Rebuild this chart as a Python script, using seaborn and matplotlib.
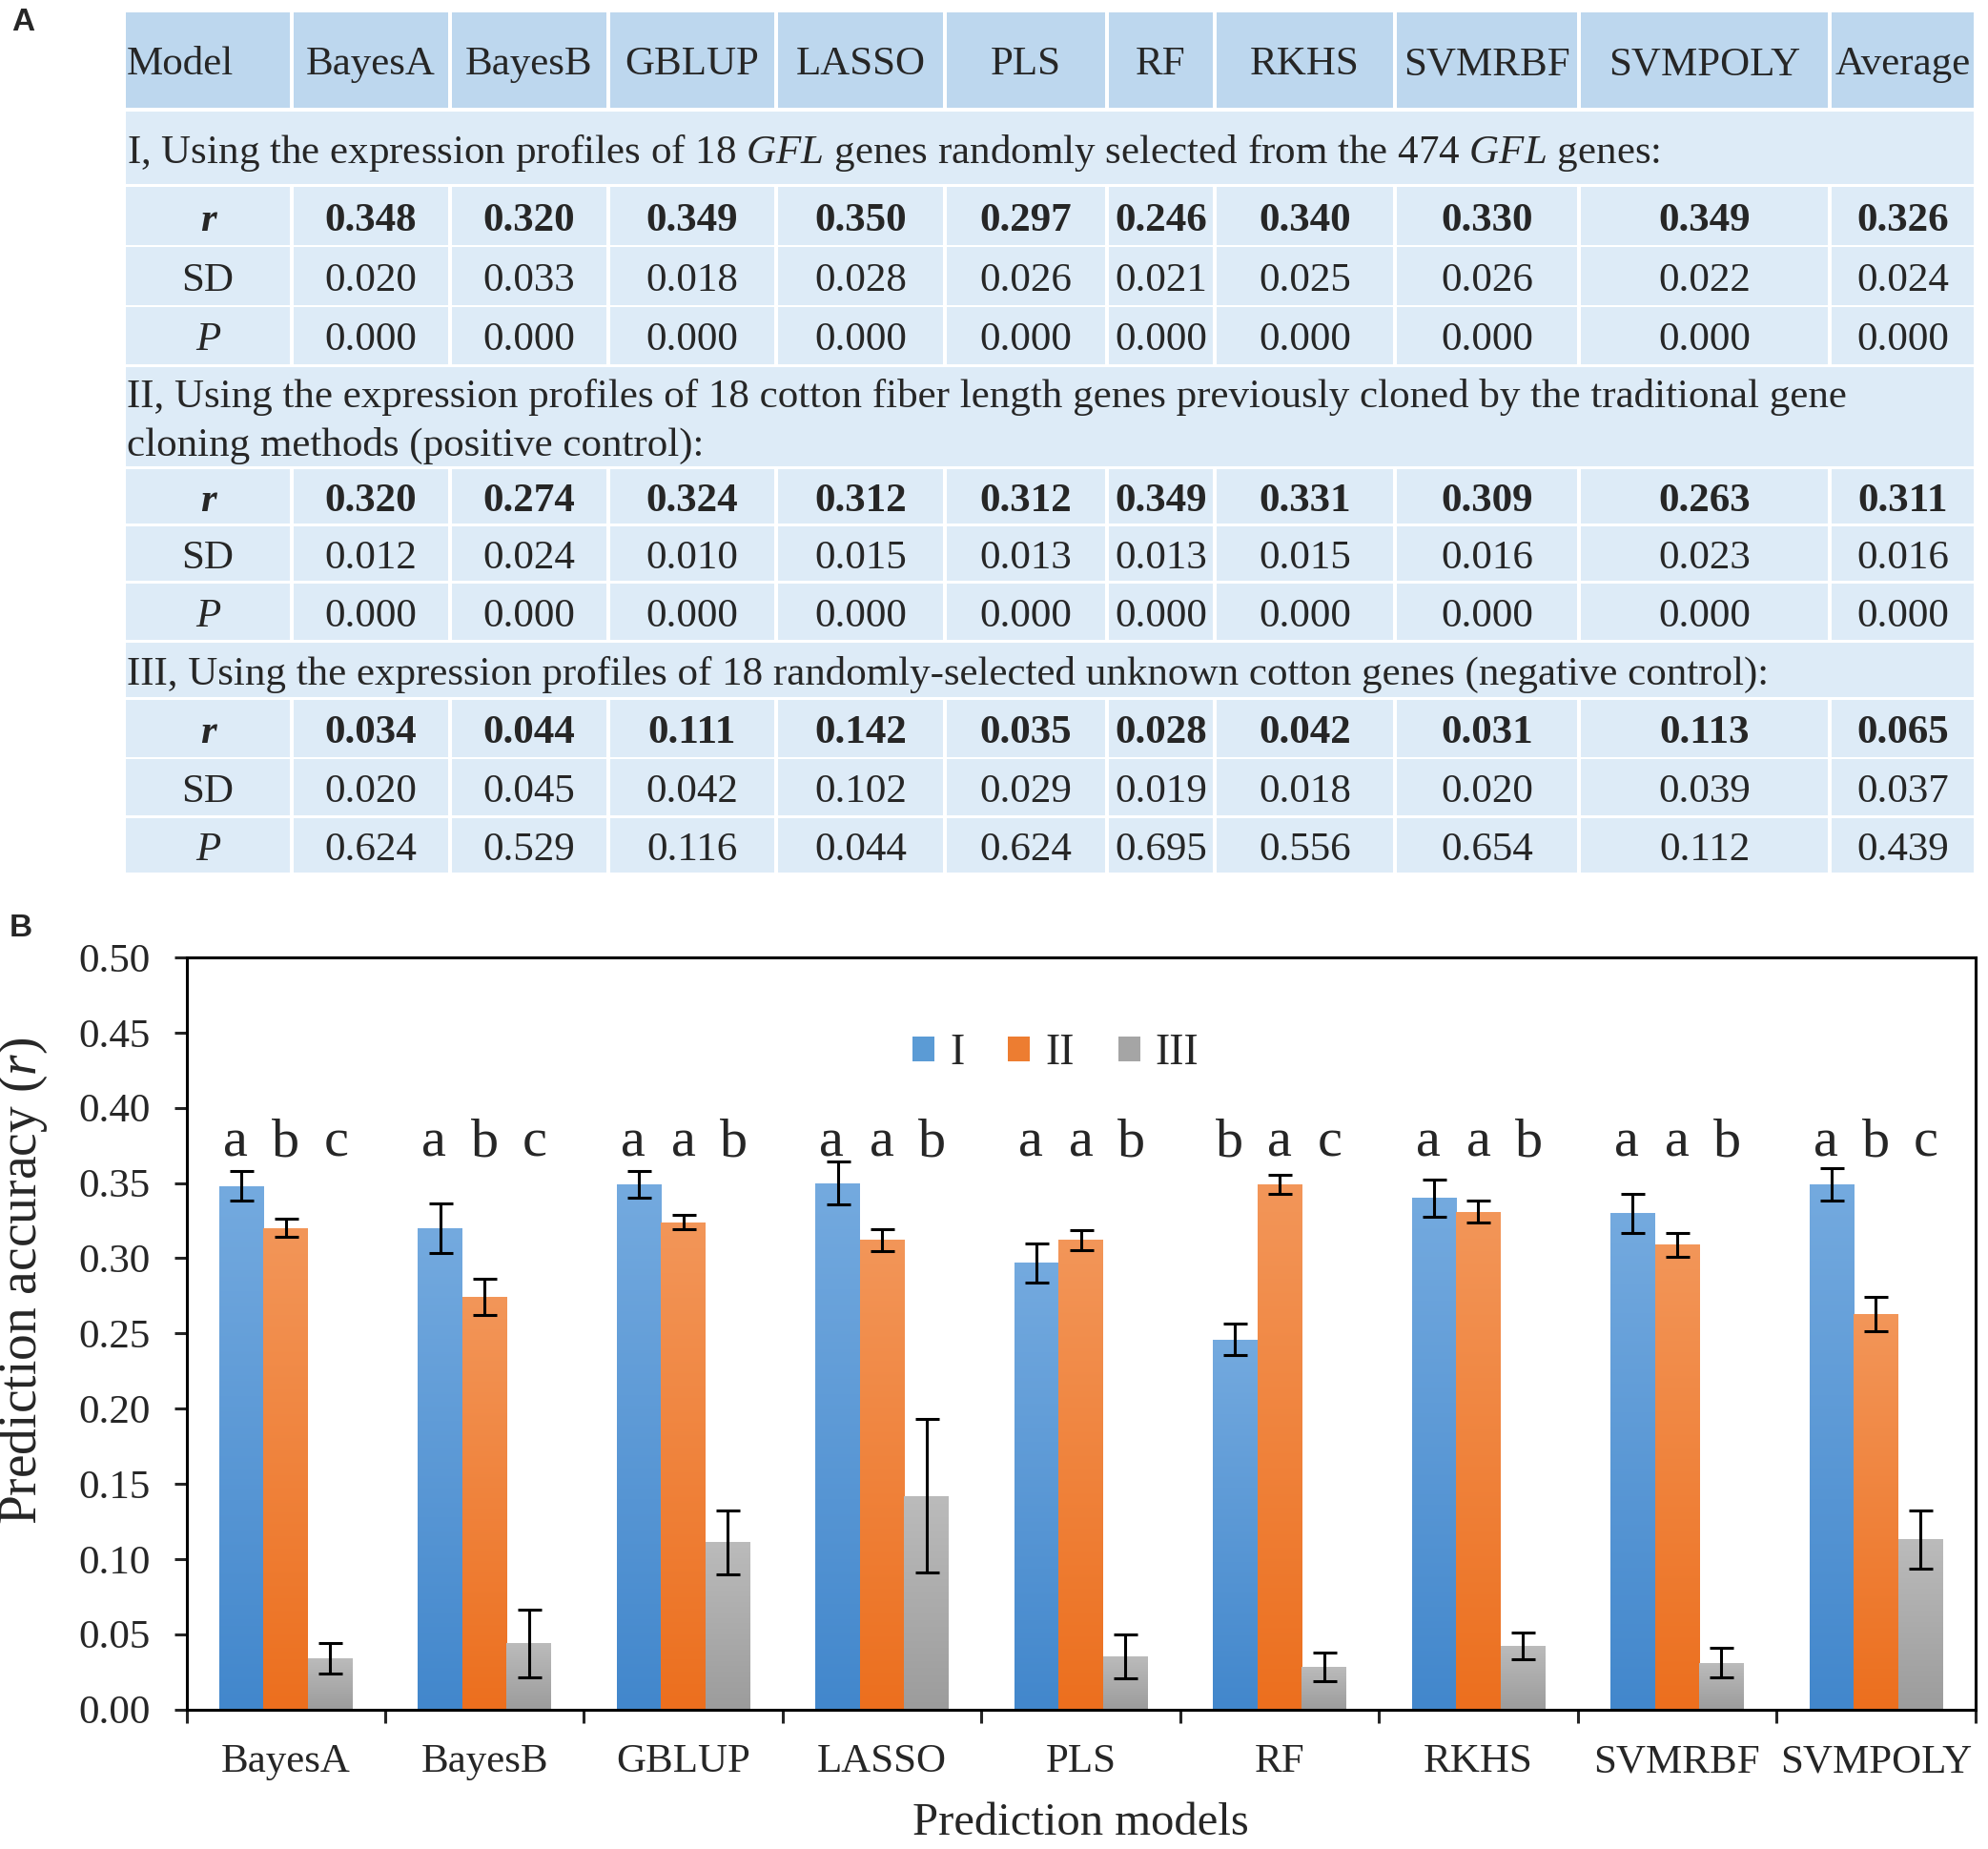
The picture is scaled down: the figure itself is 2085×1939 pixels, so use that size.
import numpy as np
import pandas as pd
import matplotlib
matplotlib.use("Agg")
import matplotlib.pyplot as plt
from matplotlib.colors import LinearSegmentedColormap
from matplotlib.patches import Rectangle, Patch
import seaborn as sns

sns.set_style("ticks")
plt.rcParams['font.family'] = ['Liberation Serif', 'DejaVu Serif']
plt.rcParams['mathtext.fontset'] = 'custom'
plt.rcParams['mathtext.rm'] = 'Liberation Serif'
plt.rcParams['mathtext.it'] = 'Liberation Serif:italic'
plt.rcParams['mathtext.bf'] = 'Liberation Serif:bold'

# ---- data ----
models = ["BayesA", "BayesB", "GBLUP", "LASSO", "PLS", "RF", "RKHS", "SVMRBF", "SVMPOLY"]
sets = ["I", "II", "III"]

r_I = [0.348, 0.320, 0.349, 0.350, 0.297, 0.246, 0.340, 0.330, 0.349]
sd_I = [0.020, 0.033, 0.018, 0.028, 0.026, 0.021, 0.025, 0.026, 0.022]
p_I = [0.000, 0.000, 0.000, 0.000, 0.000, 0.000, 0.000, 0.000, 0.000]

r_II = [0.320, 0.274, 0.324, 0.312, 0.312, 0.349, 0.331, 0.309, 0.263]
sd_II = [0.012, 0.024, 0.010, 0.015, 0.013, 0.013, 0.015, 0.016, 0.023]
p_II = [0.000, 0.000, 0.000, 0.000, 0.000, 0.000, 0.000, 0.000, 0.000]

r_III = [0.034, 0.044, 0.111, 0.142, 0.035, 0.028, 0.042, 0.031, 0.113]
sd_III = [0.020, 0.045, 0.042, 0.102, 0.029, 0.019, 0.018, 0.020, 0.039]
p_III = [0.624, 0.529, 0.116, 0.044, 0.624, 0.695, 0.556, 0.654, 0.112]

avg_r = [0.326, 0.311, 0.065]
avg_sd = [0.024, 0.016, 0.037]
avg_p = [0.000, 0.000, 0.439]

letters_I = ["a", "a", "a", "a", "a", "b", "a", "a", "a"]
letters_II = ["b", "b", "a", "a", "a", "a", "a", "a", "b"]
letters_III = ["c", "c", "b", "b", "b", "c", "b", "b", "c"]

section_titles = [
    "I, Using the expression profiles of 18 $\\mathit{GFL}$ genes randomly selected from the 474 $\\mathit{GFL}$ genes:",
    "II, Using the expression profiles of 18 cotton fiber length genes previously cloned by the traditional gene\n"
    "cloning methods (positive control):",
    "III, Using the expression profiles of 18 randomly-selected unknown cotton genes (negative control):",
]

# ---- figure ----
W, H = 2085, 1939
fig = plt.figure(figsize=(W / 100, H / 100), dpi=100)

head_col = "#BDD7EE"
body_col = "#DDEBF7"
tfs = 31
dy = 5  # push text down a bit inside cells

tab = fig.add_axes([0, 0, 1, 1])
tab.set_xlim(0, W)
tab.set_ylim(H, 0)
tab.axis("off")

col_edges = [130, 306, 472, 638, 814, 991, 1161, 1274, 1463, 1656, 1919, 2072]
row_edges = [(13, 113), (117, 193), (196, 257), (259, 320), (322, 382),
             (385, 489), (492, 549), (552, 609), (612, 671),
             (674, 731), (734, 794), (796, 855), (858, 915)]
g = 2


def cell_row(top, bot, color, texts, weights=None, styles=None):
    for i in range(len(col_edges) - 1):
        x0, x1 = col_edges[i], col_edges[i + 1]
        tab.add_patch(Rectangle((x0 + g, top), x1 - x0 - 2 * g, bot - top,
                                facecolor=color, edgecolor="none"))
    for i, t in enumerate(texts):
        x0, x1 = col_edges[i], col_edges[i + 1]
        wt = weights[i] if weights else "normal"
        st = styles[i] if styles else "normal"
        yc = (top + bot) / 2 + dy
        if i == 0 and t == "Model":
            tab.text(x0 + 3, yc, t, ha="left", va="center",
                     fontsize=tfs, weight=wt, style=st)
        else:
            tab.text((x0 + x1) / 2, yc, t, ha="center", va="center",
                     fontsize=tfs, weight=wt, style=st)


cell_row(*row_edges[0], head_col, ["Model"] + models + ["Average"])

blocks = [(r_I, sd_I, p_I), (r_II, sd_II, p_II), (r_III, sd_III, p_III)]
for k, (rv, sv, pv) in enumerate(blocks):
    top, bot = row_edges[1 + 4 * k]
    tab.add_patch(Rectangle((col_edges[0] + g, top), col_edges[-1] - col_edges[0] - 2 * g,
                            bot - top, facecolor=body_col, edgecolor="none"))
    tab.text(col_edges[0] + 3, (top + bot) / 2 + dy, section_titles[k], ha="left",
             va="center", fontsize=tfs, linespacing=1.38)
    rt, rb = row_edges[2 + 4 * k]
    cell_row(rt, rb, body_col, ["r"] + ["%.3f" % v for v in rv] + ["%.3f" % avg_r[k]],
             weights=["bold"] * 11, styles=["italic"] + ["normal"] * 10)
    st_, sb = row_edges[3 + 4 * k]
    cell_row(st_, sb, body_col, ["SD"] + ["%.3f" % v for v in sv] + ["%.3f" % avg_sd[k]])
    pt, pb = row_edges[4 + 4 * k]
    cell_row(pt, pb, body_col, ["P"] + ["%.3f" % v for v in pv] + ["%.3f" % avg_p[k]],
             styles=["italic"] + ["normal"] * 10)

fig.text(12 / W, 1 - 23 / H, "A", fontsize=24, weight="bold", family="Liberation Sans",
         ha="left", va="center")
fig.text(10 / W, 1 - 974 / H, "B", fontsize=24, weight="bold", family="Liberation Sans",
         ha="left", va="center")

# ---- bar chart ----
ax_l, ax_r, ax_t, ax_b = 195.5, 2071.6, 1004, 1792.5
ax = fig.add_axes([ax_l / W, 1 - ax_b / H, (ax_r - ax_l) / W, (ax_b - ax_t) / H])

df = pd.DataFrame({
    "model": models * 3,
    "set": ["I"] * 9 + ["II"] * 9 + ["III"] * 9,
    "r": r_I + r_II + r_III,
    "sd": sd_I + sd_II + sd_III,
})

base = ["#5B9BD5", "#ED7D31", "#A5A5A5"]
grads = [("#4287CC", "#74AADF"), ("#EC6F1E", "#F39659"), ("#9C9C9C", "#BBBBBB")]

sns.barplot(data=df, x="model", y="r", hue="set", palette=base, width=0.67,
            errorbar=None, legend=False, saturation=1, ax=ax)

sds = [sd_I, sd_II, sd_III]
letters = [letters_I, letters_II, letters_III]
grad = np.linspace(0, 1, 256).reshape(-1, 1)
bar_conts = list(ax.containers)
for k, cont in enumerate(bar_conts):
    cmap = LinearSegmentedColormap.from_list("g%d" % k, grads[k])
    xs, hs = [], []
    for bar in cont:
        x0, w, h = bar.get_x(), bar.get_width(), bar.get_height()
        bar.set_edgecolor("none")
        im = ax.imshow(grad, extent=[x0, x0 + w, 0, h], aspect="auto", cmap=cmap,
                       origin="lower", zorder=bar.get_zorder() + 0.1)
        im.set_clip_path(bar)
        xs.append(x0 + w / 2)
        hs.append(h)
    ax.errorbar(xs, hs, yerr=np.array(sds[k]) / 2, fmt="none", ecolor="black",
                elinewidth=2.2, capsize=9, capthick=2.2, zorder=5)
    for x, lt in zip(xs, letters[k]):
        ax.text(x + (k - 1) * 0.03, 0.368, lt, ha="center", va="baseline", fontsize=42)

ax.set_xlim(-0.5, 8.5)
ax.set_ylim(0, 0.5)
yt = np.arange(0, 0.501, 0.05)
ax.set_yticks(yt, labels=["%.2f" % v for v in yt])
bounds = np.arange(-0.5, 9, 1)
ax.set_xticks(bounds, labels=[""] * len(bounds))
ax.set_xticks(range(len(models)), labels=models, minor=True)
ax.tick_params(axis="x", which="major", direction="out", length=10, width=2.2)
ax.tick_params(axis="x", which="minor", length=0, pad=26, labelsize=31)
ax.tick_params(axis="y", direction="out", length=9.5, width=2.2, pad=18, labelsize=31)
for s in ax.spines.values():
    s.set_linewidth(2.2)
    s.set_color("black")

ax.set_xlabel("Prediction models", fontsize=35)
ax.set_ylabel("Prediction accuracy ($r$)", fontsize=40)
ax.xaxis.label.set_va("center")
ax.yaxis.label.set_va("center")
ax.xaxis.set_label_coords(0.5, -0.1516)
ax.yaxis.set_label_coords((24 - ax_l) / (ax_r - ax_l), 0.57)

handles = [Patch(facecolor=c, edgecolor="none") for c in base]
ax.legend(handles=handles, labels=sets, loc="center", bbox_to_anchor=(0.486, 0.872),
          ncol=3, frameon=False, fontsize=33, handlelength=0.5, handleheight=0.5,
          handletextpad=0.35, columnspacing=1.0)

fig.savefig("out.png", dpi=100)
